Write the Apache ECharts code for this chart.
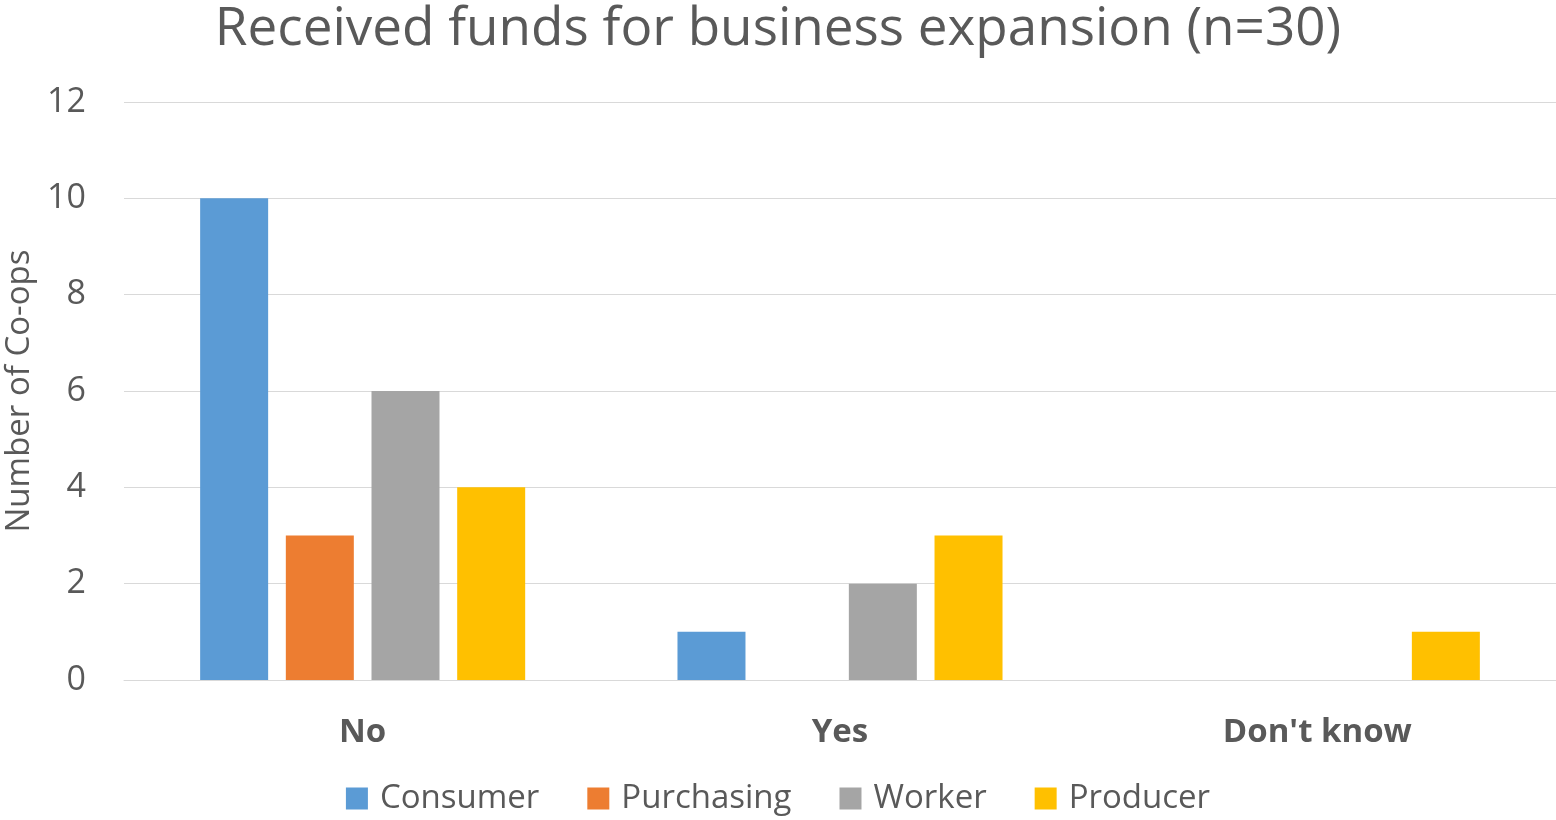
<!DOCTYPE html>
<html>
<head>
<meta charset="utf-8">
<script src="https://cdn.jsdelivr.net/npm/echarts@6/dist/echarts.min.js"></script>
<style>
html, body { margin: 0; padding: 0; background: #fff; }
#chart { width: 1556px; height: 820px; }
</style>
</head>
<body>
<div id="chart"></div>
<script>
const categories = ['No', 'Yes', "Don't know"]
const consumer = [10, 1, 0]
const purchasing = [3, 0, 0]
const worker = [6, 2, 0]
const producer = [4, 3, 1]

const font = '"Open Sans", sans-serif'
const chart = echarts.init(document.getElementById('chart'))

const makeSeries = (name, data, color) => ({
  name,
  type: 'bar',
  data,
  barWidth: 68,
  barGap: '26%',
  itemStyle: { color }
})

chart.setOption({
  animation: false,
  title: {
    text: 'Received funds for business expansion (n=30)',
    left: 'center',
    top: -2,
    textStyle: { fontFamily: font, fontSize: 53, fontWeight: 'normal', color: '#595959' }
  },
  legend: {
    bottom: 0,
    left: 'center',
    itemWidth: 22,
    itemHeight: 22,
    itemGap: 48,
    icon: 'rect',
    textStyle: { fontFamily: font, fontSize: 33, color: '#595959', padding: [0, 0, 0, 7] }
  },
  grid: { left: 124, right: 0, top: 102, bottom: 140, outerBoundsMode: 'none' },
  xAxis: {
    type: 'category',
    data: categories,
    axisLine: { lineStyle: { color: '#d9d9d9', width: 1 } },
    axisTick: { show: false },
    axisLabel: { fontFamily: font, fontSize: 33, fontWeight: 'bold', color: '#595959', margin: 36 }
  },
  yAxis: {
    type: 'value',
    min: 0,
    max: 12,
    interval: 2,
    name: 'Number of Co-ops',
    nameLocation: 'middle',
    nameGap: 88,
    nameTextStyle: { fontFamily: font, fontSize: 33, color: '#595959' },
    axisLine: { show: false },
    axisTick: { show: false },
    axisLabel: { fontFamily: font, fontSize: 34, color: '#595959', margin: 38 },
    splitLine: { lineStyle: { color: '#d9d9d9', width: 1 } }
  },
  series: [
    makeSeries('Consumer', consumer, '#5B9BD5'),
    makeSeries('Purchasing', purchasing, '#ED7D31'),
    makeSeries('Worker', worker, '#A5A5A5'),
    makeSeries('Producer', producer, '#FFC000')
  ]
})
</script>
</body>
</html>
